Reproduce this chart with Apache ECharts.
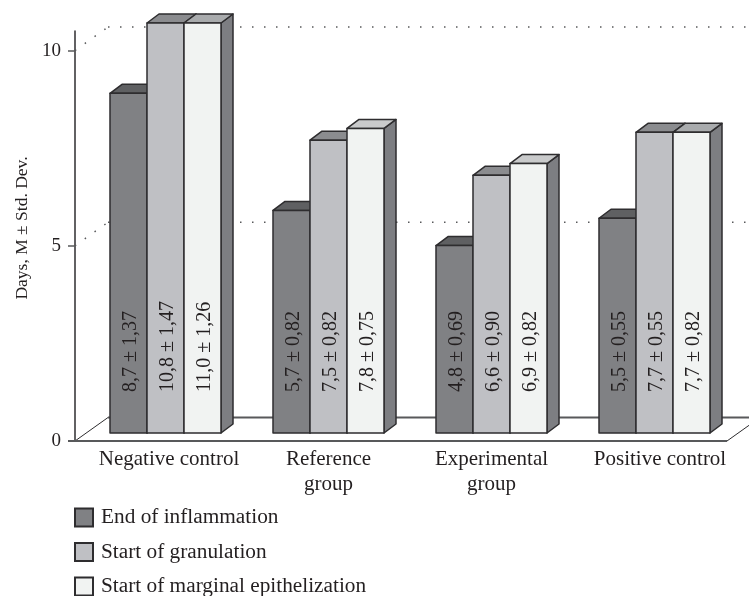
<!DOCTYPE html>
<html>
<head>
<meta charset="utf-8">
<script src="https://cdn.jsdelivr.net/npm/echarts@6/dist/echarts.min.js"></script>
<style>
  html, body { margin: 0; padding: 0; background: #fff; }
  #chart { width: 749px; height: 596px; }
</style>
</head>
<body>
<div id="chart"></div>
<script>
const categories = ["Negative control", "Reference\ngroup", "Experimental\ngroup", "Positive control"];
const seriesNames = ["End of inflammation", "Start of granulation", "Start of marginal epithelization"];
const yTicks = [0, 5, 10];
const endOfInflammation = [8.7, 5.7, 4.8, 5.5];
const startOfGranulation = [10.8, 7.5, 6.6, 7.7];
const startOfEpithelization = [11.0, 7.8, 6.9, 7.7];
const endOfInflammationSd = [1.37, 0.82, 0.69, 0.55];
const startOfGranulationSd = [1.47, 0.82, 0.90, 0.55];
const startOfEpithelizationSd = [1.26, 0.75, 0.82, 0.82];

const yMax = 10.5;
const fontFamily = '"Liberation Serif", serif';
const inkColor = "#231f20";
const edgeColor = "#2e2d2f";

// front, top and side colours per series, the last bar's top changes by group
const barColors = [
  { front: "#808184", top: ["#5f6062"], side: "#6d6e71" },
  { front: "#bfc0c4", top: ["#8b8c8f"], side: "#808184" },
  { front: "#f1f3f2", top: ["#a9abad", "#c9cacb", "#c9cacb", "#a9abad"], side: "#7d7e82" },
];

// 3d look of the plot, in pixels
const wallDepthX = 33;
const wallDepthY = 23.5;
const barDepthX = 12;
const barDepthY = 9;
const barLift = 8;
const barWidth = 37;
const axisShift = 9;

const fmt = (v, digits) => v.toFixed(digits).replace(".", ",");

const renderBackdrop = (params, api) => {
  const sys = params.coordSys;
  const x0 = sys.x - axisShift;
  const x1 = sys.x + sys.width - axisShift;
  const yFloor = api.coord([0, 0])[1];
  const children = [
    { type: "line", shape: { x1: x0, y1: yFloor, x2: x0 + wallDepthX, y2: yFloor - wallDepthY }, style: { stroke: edgeColor, lineWidth: 1 } },
    { type: "line", shape: { x1: x0 + wallDepthX, y1: yFloor - wallDepthY, x2: x1 + wallDepthX, y2: yFloor - wallDepthY }, style: { stroke: "#58595b", lineWidth: 2 } },
    { type: "line", shape: { x1: x1, y1: yFloor, x2: x1 + wallDepthX, y2: yFloor - wallDepthY }, style: { stroke: edgeColor, lineWidth: 1 } },
    { type: "line", shape: { x1: x0 - 7, y1: yFloor, x2: x1, y2: yFloor }, style: { stroke: "#58595b", lineWidth: 2 } },
  ];
  [5, 10].forEach((tick) => {
    const y = api.coord([0, tick])[1];
    const dotted = { stroke: "#58595b", lineWidth: 1.5, lineDash: [1.5, 10.5] };
    children.push({ type: "line", shape: { x1: x0, y1: y, x2: x0 + wallDepthX, y2: y - wallDepthY }, style: dotted });
    children.push({ type: "line", shape: { x1: x0 + wallDepthX, y1: y - wallDepthY, x2: x1 + wallDepthX, y2: y - wallDepthY }, style: dotted });
  });
  return { type: "group", children };
};

const makeRenderBar = (seriesIndex) => (params, api) => {
  const colors = barColors[seriesIndex];
  const group = api.value(0);
  const center = api.coord([group, 0])[0];
  const left = center + (seriesIndex - 1.5) * barWidth;
  const right = left + barWidth;
  const base = api.coord([0, 0])[1] - barLift;
  // bars taller than the axis get cut off at its top
  const top = api.coord([0, Math.min(api.value(1), yMax)])[1] - barLift;
  const outline = { stroke: edgeColor, lineWidth: 1.5, lineJoin: "round" };
  const label = fmt(api.value(1), 1) + " ± " + fmt(api.value(2), 2);
  return {
    type: "group",
    children: [
      {
        type: "polygon",
        shape: { points: [[right, top], [right + barDepthX, top - barDepthY], [right + barDepthX, base - barDepthY], [right, base]] },
        style: { fill: colors.side, ...outline },
      },
      {
        type: "polygon",
        shape: { points: [[left, top], [left + barDepthX, top - barDepthY], [right + barDepthX, top - barDepthY], [right, top]] },
        style: { fill: colors.top[group] || colors.top[0], ...outline },
      },
      {
        type: "rect",
        shape: { x: left, y: top, width: barWidth, height: base - top },
        style: { fill: colors.front, ...outline },
      },
      {
        type: "text",
        x: left + barWidth / 2 + 2,
        y: base - 41,
        rotation: Math.PI / 2,
        style: { text: label, fill: inkColor, font: "20px " + fontFamily, align: "left", verticalAlign: "middle" },
      },
    ],
  };
};

const seriesData = [
  [endOfInflammation, endOfInflammationSd],
  [startOfGranulation, startOfGranulationSd],
  [startOfEpithelization, startOfEpithelizationSd],
];

const chart = echarts.init(document.getElementById("chart"), null, { renderer: "canvas" });

chart.setOption({
  animation: false,
  backgroundColor: "#fff",
  textStyle: { fontFamily },
  grid: { left: 84, right: 13, top: 31, bottom: 155, outerBoundsMode: "none" },
  legend: {
    orient: "vertical",
    left: 74,
    top: 507,
    height: 120,
    padding: 0,
    itemWidth: 18,
    itemHeight: 18,
    itemGap: 13.5,
    icon: "rect",
    textStyle: { color: inkColor, fontSize: 21.3, fontFamily, padding: [0, 0, 0, 3] },
    data: seriesNames,
  },
  xAxis: {
    type: "category",
    data: categories,
    axisLine: { show: false },
    axisTick: { show: false },
    axisLabel: {
      color: inkColor,
      fontSize: 21,
      fontFamily,
      margin: 6,
      lineHeight: 25,
      interval: 0,
      // the first and last names sit a little right of their bar groups
      formatter: (name, i) => (i === 0 ? "{first|" + name + "}" : i === 3 ? "{last|" + name + "}" : name),
      rich: {
        first: { fontSize: 21, fontFamily, color: inkColor, lineHeight: 25, padding: [0, 0, 0, 7] },
        last: { fontSize: 21, fontFamily, color: inkColor, lineHeight: 25, padding: [0, 0, 0, 11] },
      },
    },
  },
  yAxis: {
    type: "value",
    min: 0,
    max: yMax,
    interval: 5,
    offset: axisShift,
    name: "Days, M ± Std. Dev.",
    nameLocation: "middle",
    nameGap: 35,
    nameTextStyle: { color: inkColor, fontSize: 17.5, fontFamily, padding: [0, 0, 0, 16] },
    axisLine: { show: true, lineStyle: { color: edgeColor, width: 1.5 } },
    axisTick: { show: true, length: 7, customValues: yTicks, lineStyle: { color: "#58595b", width: 1.5 } },
    axisLabel: { color: inkColor, fontSize: 19, fontFamily, margin: 14, customValues: yTicks },
    splitLine: { show: false },
  },
  series: [
    {
      type: "custom",
      silent: true,
      renderItem: renderBackdrop,
      data: [[0, 0]],
      encode: { x: 0, y: 1 },
      z: 1,
    },
  ].concat(seriesData.map(([values, sds], i) => ({
    name: seriesNames[i],
    type: "custom",
    renderItem: makeRenderBar(i),
    itemStyle: { color: barColors[i].front, borderColor: edgeColor, borderWidth: 1 },
    encode: { x: 0, y: 1 },
    data: values.map((v, j) => [j, v, sds[j]]),
    z: 2 + i,
  }))),
});

window.addEventListener("resize", () => chart.resize());
</script>
</body>
</html>
